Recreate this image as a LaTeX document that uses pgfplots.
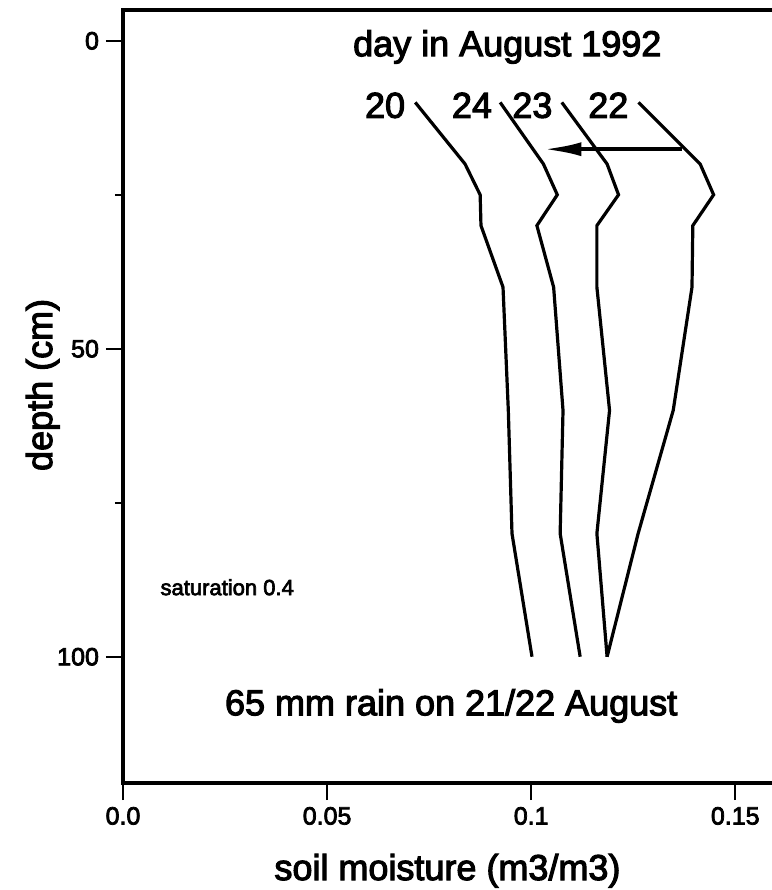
\documentclass[border=0pt]{standalone}
\usepackage{fontspec}
\setmainfont{Liberation Sans}[FakeBold=3]
\usepackage{pgfplots}
\pgfplotsset{compat=1.18}
\usetikzlibrary{arrows.meta}

\pgfplotstableread{
x d
0.0716 10
0.0838 20
0.0875 25
0.0877 30
0.0931 40
0.0944 60
0.0953 80
0.1002 100
}\dayA
\pgfplotstableread{
x d
0.0924 10
0.1030 20
0.1064 25
0.1014 30
0.1055 40
0.1078 60
0.1071 80
0.1120 100
}\dayD
\pgfplotstableread{
x d
0.1075 10
0.1186 20
0.1214 25
0.1161 30
0.1161 40
0.1192 60
0.1161 80
0.1186 100
}\dayC
\pgfplotstableread{
x d
0.1263 10
0.1414 20
0.1447 25
0.1396 30
0.1394 40
0.1348 60
0.1262 80
0.1186 100
}\dayB

\begin{document}
\begin{tikzpicture}
\begin{axis}[
  name=ax,
  scale only axis,
  width=324.5pt, height=386.5pt,
  xmin=0, xmax=0.159,
  ymin=-5, ymax=120.5,
  y dir=reverse,
  axis line style={draw=none},
  xtick={0,0.05,0.1,0.15},
  xticklabels={0.0,0.05,0.1,0.15},
  ytick={0,50,100},
  yticklabels={0,50,100},
  minor ytick={25,75},
  tick align=outside,
  tick pos=left,
  major tick length=8.5pt,
  minor tick length=4pt,
  every tick/.style={black, line width=1pt},
  tick label style={font=\fontsize{12.5}{15}\selectfont},
  xlabel={soil moisture (m3/m3)},
  ylabel={depth (cm)},
  label style={font=\fontsize{18}{21.6}\selectfont, inner sep=0pt},
  xlabel style={at={(axis description cs:0.5,-0.1255)}, anchor=base},
  ylabel style={at={(axis description cs:-0.1094,0.515)}, anchor=base},
  clip=false,
]
\addplot[black, line width=1.6pt] table[x=x,y=d] {\dayA};
\addplot[black, line width=1.6pt] table[x=x,y=d] {\dayD};
\addplot[black, line width=1.6pt] table[x=x,y=d] {\dayC};
\addplot[black, line width=1.6pt] table[x=x,y=d] {\dayB};
\draw[black, line width=2pt, -{Latex[length=19pt,width=7pt]}] (axis cs:0.1369,17.6) -- (axis cs:0.1030,17.6);
\begin{scope}[every node/.style={inner sep=0pt, font=\fontsize{18}{21.6}\selectfont}]
\node[anchor=base] at (axis cs:0.0642,12.5) {20};
\node[anchor=base] at (axis cs:0.0855,12.5) {24};
\node[anchor=base] at (axis cs:0.1003,12.5) {23};
\node[anchor=base] at (axis cs:0.1189,12.5) {22};
\node[anchor=base east] at (axis cs:0.1320,2.5) {day in August 1992};
\node[anchor=base] at (axis cs:0.0804,109.5) {65 mm rain on 21/22 August};
\end{scope}
\node[inner sep=0pt, anchor=base west, font=\fontsize{11}{13}\selectfont] at (axis cs:0.0091,90.0) {saturation 0.4};
\end{axis}
\draw[line width=1.6pt] (ax.north east) -- (ax.north west) -- (ax.south west) -- (ax.south east);
\pgfresetboundingbox
\path ([xshift=-61.5pt,yshift=-53.5pt]ax.south west) rectangle ([yshift=5pt]ax.north east);
\end{tikzpicture}
\end{document}
